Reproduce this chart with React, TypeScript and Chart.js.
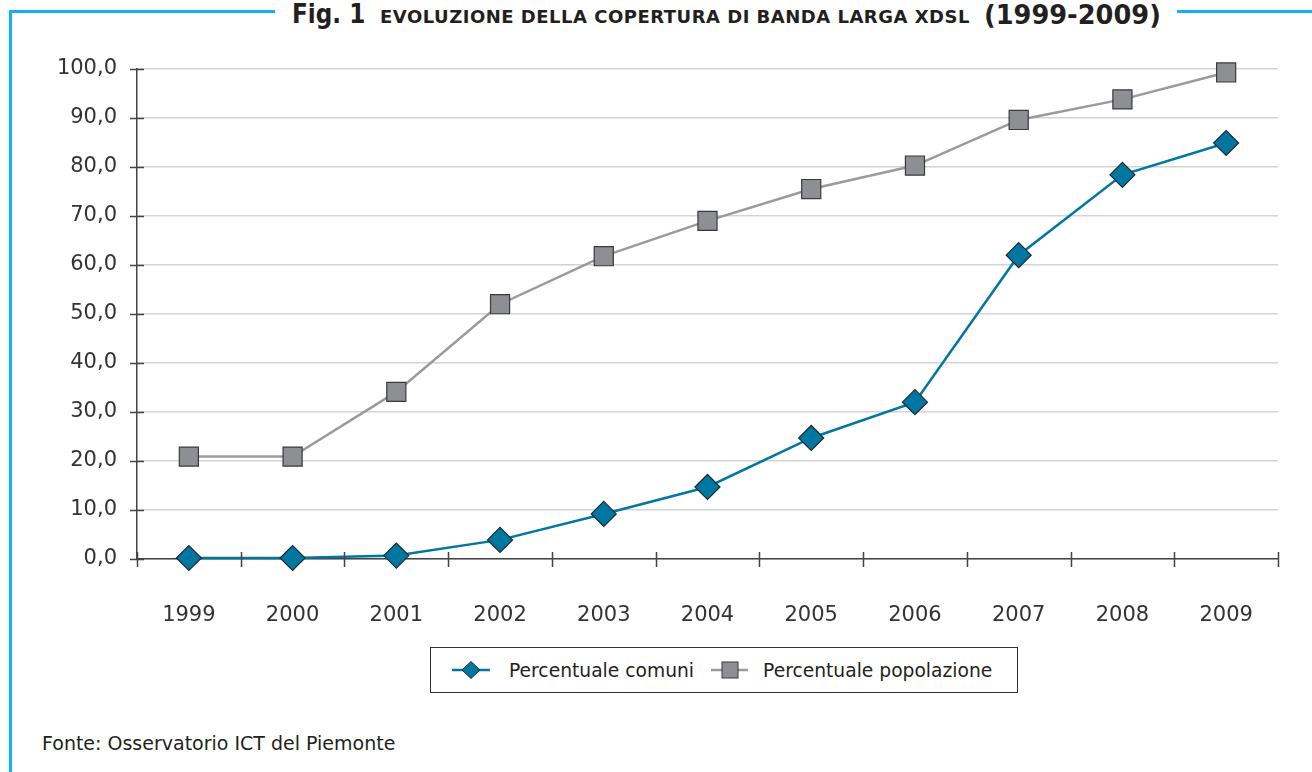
import React, { useEffect, useRef } from "react";
import { Chart, registerables } from "chart.js";

Chart.register(...registerables);

const years = ["1999", "2000", "2001", "2002", "2003", "2004", "2005", "2006", "2007", "2008", "2009"];
const comuni = [0.2, 0.2, 0.7, 3.9, 9.2, 14.7, 24.7, 32.0, 62.0, 78.4, 84.9];
const popolazione = [20.9, 20.9, 34.1, 52.0, 61.8, 69.0, 75.5, 80.3, 89.6, 93.8, 99.3];
const seriesNames = ["Percentuale comuni", "Percentuale popolazione"];
const titleMain = "Fig. 1";
const titleSub = "EVOLUZIONE DELLA COPERTURA DI BANDA LARGA XDSL";
const titleYears = "(1999-2009)";
const source = "Fonte: Osservatorio ICT del Piemonte";

const BLUE = "#0077a1";
const GRAY_LINE = "#9a9a9c";
const GRAY_FILL = "#8e8f93";
const FRAME = "#12b4ee";
const FONT = "'DejaVu Sans', sans-serif";

const crossTicks = {
  id: "crossTicks",
  afterDatasetsDraw(chart: any) {
    const ctx = chart.ctx;
    const x = chart.scales.x;
    const y = chart.scales.y;
    ctx.save();
    ctx.strokeStyle = "#444";
    ctx.lineWidth = 1.5;
    ctx.beginPath();
    y.ticks.forEach((t: any) => {
      const py = Math.round(y.getPixelForValue(t.value)) + 0.5;
      ctx.moveTo(x.left - 7, py);
      ctx.lineTo(x.left + 7, py);
    });
    const n = years.length;
    const bounds: number[] = [x.left];
    for (let i = 1; i < n; i++) {
      bounds.push((x.getPixelForValue(i - 1) + x.getPixelForValue(i)) / 2);
    }
    bounds.push(x.right);
    const by = y.getPixelForValue(0);
    bounds.forEach((b) => {
      const px = Math.round(b) + 0.5;
      ctx.moveTo(px, by - 7);
      ctx.lineTo(px, by + 8);
    });
    ctx.stroke();
    ctx.restore();
  },
};

function ChartCanvas() {
  const ref = useRef<HTMLCanvasElement | null>(null);
  useEffect(() => {
    if (!ref.current) return;
    const chart = new Chart(ref.current, {
      type: "line",
      data: {
        labels: years,
        datasets: [
          {
            label: seriesNames[1],
            data: popolazione,
            borderColor: GRAY_LINE,
            borderWidth: 2.5,
            backgroundColor: GRAY_FILL,
            pointBackgroundColor: GRAY_FILL,
            pointBorderColor: "#3a3a3a",
            pointBorderWidth: 1.2,
            pointStyle: "rect",
            pointRadius: 13.5,
            pointHoverRadius: 13.5,
            tension: 0,
            clip: false,
          },
          {
            label: seriesNames[0],
            data: comuni,
            borderColor: BLUE,
            borderWidth: 2.5,
            backgroundColor: BLUE,
            pointBackgroundColor: BLUE,
            pointBorderColor: "#1d2a30",
            pointBorderWidth: 1.2,
            pointStyle: "rectRot",
            pointRadius: 12.5,
            pointHoverRadius: 12.5,
            tension: 0,
            clip: false,
          },
        ],
      },
      options: {
        responsive: false,
        animation: false,
        devicePixelRatio: 1,
        layout: { padding: { top: 69, right: 34, left: 0, bottom: 11 } },
        plugins: {
          legend: { display: false },
          title: { display: false },
          tooltip: { enabled: false },
        },
        scales: {
          x: {
            type: "category",
            offset: true,
            afterFit: (s: any) => {
              s.height = 70;
            },
            grid: { display: false, drawTicks: false },
            border: { display: true, color: "#444", width: 1.5 },
            ticks: {
              padding: 44,
              color: "#333",
              font: { family: FONT, size: 21 },
              maxRotation: 0,
            },
          },
          y: {
            min: 0,
            max: 100,
            afterFit: (s: any) => {
              s.width = 137;
            },
            grid: { color: "#d4d4d4", lineWidth: 1.5, drawTicks: false },
            border: { display: true, color: "#444", width: 1.5 },
            ticks: {
              stepSize: 10,
              padding: 20,
              color: "#333",
              font: { family: FONT, size: 21 },
              callback: (v: any) => Number(v).toFixed(1).replace(".", ","),
            },
          },
        },
      },
      plugins: [crossTicks],
    });
    return () => chart.destroy();
  }, []);
  return (
    <canvas
      ref={ref}
      width={1312}
      height={640}
      style={{ position: "absolute", left: 0, top: 0, width: 1312, height: 640 }}
    />
  );
}

function LegendIcon({ kind }: { kind: "diamond" | "square" }) {
  return (
    <svg width={40} height={24} style={{ display: "block" }}>
      {kind === "diamond" ? (
        <>
          <line x1={0} y1={12} x2={38} y2={12} stroke={BLUE} strokeWidth={2.5} />
          <polygon points="19,3.5 28,12 19,20.5 10,12" fill={BLUE} stroke="#1d2a30" strokeWidth={1} />
        </>
      ) : (
        <>
          <line x1={0} y1={12} x2={37} y2={12} stroke={GRAY_LINE} strokeWidth={2.5} />
          <rect x={11} y={4} width={16} height={16} fill={GRAY_FILL} stroke="#3a3a3a" strokeWidth={1} />
        </>
      )}
    </svg>
  );
}

const titlePart = (size: number): React.CSSProperties => ({
  position: "absolute",
  fontSize: size,
  lineHeight: `${size}px`,
  fontWeight: "bold",
  color: "#231f20",
  whiteSpace: "nowrap",
  transformOrigin: "left top",
});

export default function App() {
  useEffect(() => {
    document.body.style.margin = "0";
  }, []);
  return (
    <div
      style={{
        position: "fixed",
        left: 0,
        top: 0,
        width: 1312,
        height: 772,
        background: "#fff",
        overflow: "hidden",
        fontFamily: FONT,
      }}
    >
      <div style={{ position: "absolute", left: 9, top: 10, width: 266, height: 3, background: FRAME }} />
      <div style={{ position: "absolute", left: 1177, top: 10, width: 135, height: 2.7, background: FRAME }} />
      <div style={{ position: "absolute", left: 9, top: 10, width: 2.7, height: 762, background: FRAME }} />
      <div style={{ ...titlePart(26), left: 292, top: 1.3, transform: "scaleX(0.89)" }}>{titleMain}</div>
      <div style={{ ...titlePart(18), left: 380, top: 8.1, letterSpacing: 0.5 }}>{titleSub}</div>
      <div style={{ ...titlePart(27), left: 984, top: 0.5, transform: "scaleX(0.95)" }}>{titleYears}</div>
      <ChartCanvas />
      <div
        style={{
          position: "absolute",
          left: 430,
          top: 647,
          width: 588,
          height: 46,
          boxSizing: "border-box",
          border: "1.3px solid #333",
          display: "flex",
          alignItems: "center",
          color: "#231f20",
          fontSize: 18.7,
          whiteSpace: "nowrap",
        }}
      >
        <div style={{ marginLeft: 21 }}>
          <LegendIcon kind="diamond" />
        </div>
        <span style={{ marginLeft: 17 }}>{seriesNames[0]}</span>
        <div style={{ marginLeft: 17 }}>
          <LegendIcon kind="square" />
        </div>
        <span style={{ marginLeft: 12 }}>{seriesNames[1]}</span>
      </div>
      <div
        style={{
          position: "absolute",
          left: 42,
          top: 730,
          fontSize: 19,
          color: "#231f20",
          whiteSpace: "nowrap",
          lineHeight: "26px",
        }}
      >
        {source}
      </div>
    </div>
  );
}
